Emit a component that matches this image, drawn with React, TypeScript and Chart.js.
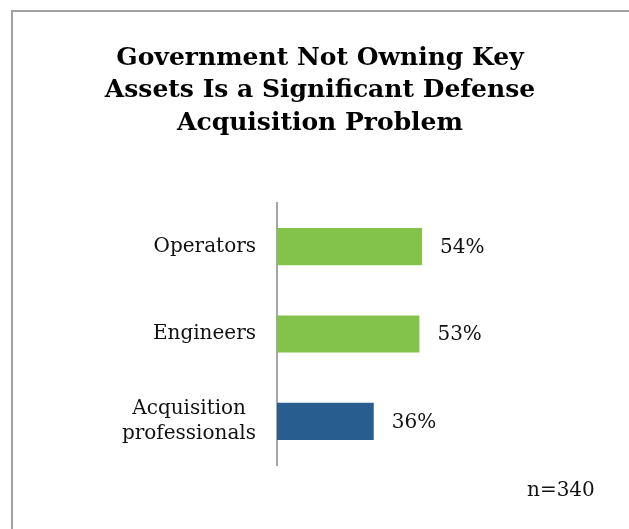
import React, { useEffect, useRef } from "react";
import { Chart, registerables } from "chart.js";

Chart.register(...registerables);

const titleLines = ["Government Not Owning Key", "Assets Is a Significant Defense", "Acquisition Problem"];
// en space after "Acquisition" keeps the two-line label visually centred like the original
const categories: (string | string[])[] = ["Operators", "Engineers", ["Acquisition\u2002", "professionals"]];
const values = [54, 53, 36];
const barColors = ["#83C34B", "#83C34B", "#285E8F"];
const xMax = 131;
const sampleNote = "n=340";

const SERIF = "'DejaVu Serif', 'Liberation Serif', serif";

const framePlugin = {
  id: "frame",
  beforeDraw(chart: any) {
    const ctx = chart.ctx;
    ctx.save();
    ctx.strokeStyle = "#a0a0a0";
    ctx.lineWidth = 2;
    ctx.beginPath();
    ctx.moveTo(12, chart.height);
    ctx.lineTo(12, 11);
    ctx.lineTo(chart.width, 11);
    ctx.stroke();
    ctx.restore();
  },
};

const labelPlugin = {
  id: "valueLabels",
  afterDatasetsDraw(chart: any) {
    const ctx = chart.ctx;
    const meta = chart.getDatasetMeta(0);
    ctx.save();
    ctx.fillStyle = "#111";
    ctx.font = `20px ${SERIF}`;
    ctx.textAlign = "left";
    ctx.textBaseline = "middle";
    meta.data.forEach((bar: any, i: number) => {
      ctx.fillText(`${values[i]}%`, bar.x + 18, bar.y + 1);
    });
    ctx.fillText(sampleNote, 527, 491);
    ctx.restore();
  },
};

export default function App() {
  const ref = useRef<HTMLCanvasElement>(null);
  useEffect(() => {
    if (!ref.current) return;
    const chart = new Chart(ref.current, {
      type: "bar",
      data: {
        labels: categories,
        datasets: [
          {
            data: values,
            backgroundColor: barColors,
            borderWidth: 0,
            categoryPercentage: 0.85,
            barPercentage: 0.5,
          },
        ],
      },
      options: {
        indexAxis: "y",
        animation: false,
        responsive: false,
        maintainAspectRatio: false,
        layout: { padding: { left: 11, right: 0, top: 0, bottom: 64 } },
        plugins: {
          legend: { display: false },
          tooltip: { enabled: false },
          title: {
            display: true,
            text: titleLines,
            color: "#000",
            font: { family: SERIF, size: 25, weight: "bold", lineHeight: 1.3 },
            padding: { top: 42, bottom: 63.5 },
          },
        },
        scales: {
          x: { display: false, min: 0, max: xMax },
          y: {
            afterFit: (scale: any) => {
              scale.width = 266;
            },
            grid: { display: false, drawTicks: false },
            border: { display: true, color: "#a6a6a6", width: 2 },
            ticks: {
              color: "#111",
              padding: 21,
              font: { family: SERIF, size: 20, lineHeight: 1.25 },
            },
          },
        },
      },
      plugins: [framePlugin, labelPlugin],
    });
    return () => chart.destroy();
  }, []);
  return (
    <div style={{ position: "absolute", left: 0, top: 0, width: 629, height: 529, background: "#fff" }}>
      <canvas ref={ref} width={629} height={529} style={{ width: 629, height: 529, display: "block" }} />
    </div>
  );
}
